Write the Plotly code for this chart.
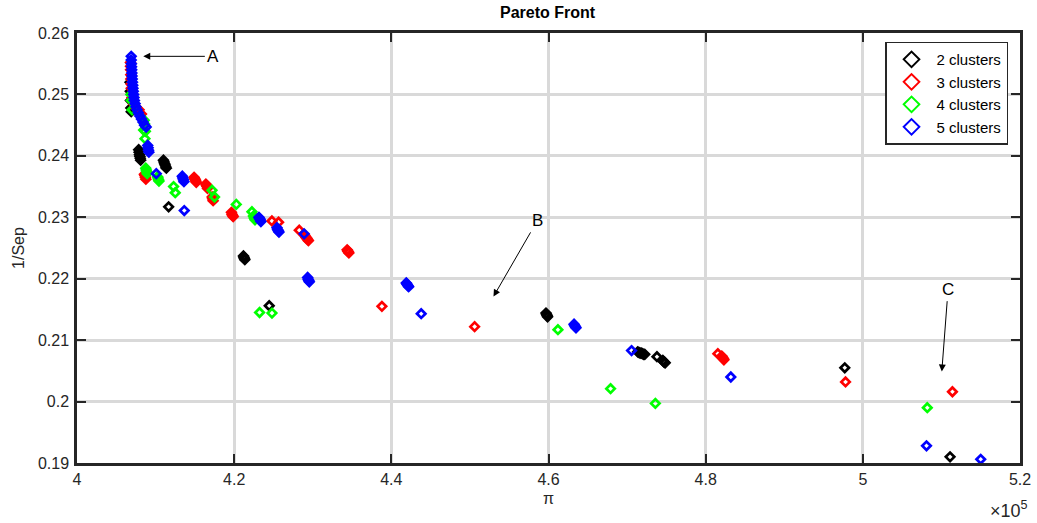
import plotly.graph_objects as go

# ---- data (x in units of 1e5); clustered near-duplicates are overlapping solutions ----
x_2 = [4.0675, 4.0678, 4.0680, 4.0685, 4.0690,
       4.0785, 4.0790, 4.0795, 4.0800, 4.0805, 4.0810,
       4.1100, 4.1108, 4.1115, 4.1122, 4.1130, 4.1137,
       4.1166,
       4.2118, 4.2124, 4.2130, 4.2136,
       4.2446,
       4.5968, 4.5975, 4.5982, 4.5988,
       4.7135, 4.7150, 4.7165, 4.7180, 4.7195, 4.7210, 4.7225,
       4.7380,
       4.7455, 4.7465, 4.7475, 4.7485,
       4.9770, 5.1110]
y_2 = [0.2520, 0.2505, 0.2490, 0.2478, 0.2472,
       0.2410, 0.2406, 0.2402, 0.2399, 0.2396, 0.2393,
       0.2393, 0.2390, 0.2387, 0.2385, 0.2382, 0.2380,
       0.2317,
       0.2237, 0.2235, 0.2233, 0.2231,
       0.2156,
       0.2144, 0.2142, 0.2140, 0.2138,
       0.2081, 0.2080, 0.2079, 0.2079, 0.2078, 0.2077, 0.2077,
       0.2073,
       0.2067, 0.2065, 0.2064, 0.2063,
       0.2055, 0.1910]

x_3 = [4.0680, 4.0681, 4.0682, 4.0684, 4.0685, 4.0688, 4.0690, 4.0700, 4.0720, 4.0760, 4.0790, 4.0820,
       4.0858, 4.0864, 4.0870, 4.0876,
       4.1490, 4.1497, 4.1504, 4.1511, 4.1518,
       4.1640, 4.1647, 4.1654, 4.1661,
       4.1720, 4.1726, 4.1732,
       4.1965, 4.1972, 4.1980, 4.1988,
       4.2480, 4.2565, 4.2828,
       4.2895, 4.2905, 4.2915, 4.2925, 4.2935, 4.2945,
       4.3438, 4.3445, 4.3452, 4.3460,
       4.3880, 4.5060, 4.8155,
       4.8205, 4.8215, 4.8225, 4.8232,
       4.9780, 5.1140]
y_3 = [0.2552, 0.2546, 0.2540, 0.2532, 0.2525, 0.2517, 0.2510, 0.2495, 0.2485, 0.2478, 0.2475, 0.2468,
       0.2370, 0.2368, 0.2365, 0.2362,
       0.2365, 0.2363, 0.2361, 0.2359, 0.2357,
       0.2354, 0.2352, 0.2350, 0.2347,
       0.2333, 0.2330, 0.2327,
       0.2308, 0.2305, 0.2303, 0.2301,
       0.2294, 0.2292, 0.2279,
       0.2271, 0.2269, 0.2267, 0.2266, 0.2264, 0.2262,
       0.2247, 0.2245, 0.2244, 0.2242,
       0.2155, 0.2122, 0.2078,
       0.2074, 0.2072, 0.2070, 0.2068,
       0.2032, 0.2016]

x_4 = [4.0685, 4.0690, 4.0700, 4.0855, 4.0860, 4.0848, 4.0870, 4.0865,
       4.0875, 4.0881, 4.0887, 4.0893,
       4.1025, 4.1031, 4.1037, 4.1043,
       4.1229, 4.1250, 4.1718, 4.1750, 4.2027, 4.2226,
       4.2245, 4.2255, 4.2265,
       4.2323, 4.2481, 4.6120, 4.6790, 4.7360, 5.0820]
y_4 = [0.2500, 0.2490, 0.2475, 0.2458, 0.2452, 0.2442, 0.2440, 0.2428,
       0.2380, 0.2377, 0.2374, 0.2371,
       0.2366, 0.2364, 0.2361, 0.2359,
       0.2350, 0.2340, 0.2344, 0.2333, 0.2321, 0.2309,
       0.2302, 0.2299, 0.2296,
       0.2145, 0.2144, 0.2117, 0.2021, 0.1997, 0.1990]

x_5 = [4.0690, 4.0690, 4.0692, 4.0694, 4.0696, 4.0698, 4.0700, 4.0703, 4.0706, 4.0709, 4.0712,
       4.0716, 4.0720, 4.0725, 4.0730, 4.0740, 4.0750, 4.0765, 4.0780, 4.0800, 4.0820, 4.0840,
       4.0860, 4.0880,
       4.0900, 4.0905, 4.0910, 4.0915,
       4.1009,
       4.1340, 4.1347, 4.1354, 4.1361,
       4.1365,
       4.2315, 4.2323, 4.2331, 4.2340,
       4.2545, 4.2553, 4.2561, 4.2570,
       4.2890,
       4.2935, 4.2942, 4.2949, 4.2956,
       4.4190, 4.4200, 4.4210, 4.4220,
       4.4380,
       4.6325, 4.6333, 4.6341, 4.6350,
       4.7057, 4.8320, 5.0810, 5.1500]
y_5 = [0.2562, 0.2556, 0.2550, 0.2545, 0.2540, 0.2535, 0.2530, 0.2525, 0.2520, 0.2515, 0.2510,
       0.2505, 0.2500, 0.2495, 0.2490, 0.2485, 0.2480, 0.2475, 0.2470, 0.2465, 0.2460, 0.2455,
       0.2450, 0.2447,
       0.2417, 0.2413, 0.2409, 0.2406,
       0.2371,
       0.2367, 0.2364, 0.2361, 0.2358,
       0.2311,
       0.2300, 0.2298, 0.2296, 0.2293,
       0.2283, 0.2280, 0.2278, 0.2276,
       0.2273,
       0.2202, 0.2199, 0.2197, 0.2195,
       0.2193, 0.2191, 0.2189, 0.2187,
       0.2143,
       0.2126, 0.2124, 0.2122, 0.2120,
       0.2083, 0.2040, 0.1928, 0.1906]

series_names = ["2 clusters", "3 clusters", "4 clusters", "5 clusters"]
series_colors = ["#000000", "#ff0000", "#00ff00", "#0000ff"]

x_ticks = [4.0, 4.2, 4.4, 4.6, 4.8, 5.0, 5.2]
x_tick_labels = ["4", "4.2", "4.4", "4.6", "4.8", "5", "5.2"]
y_ticks = [0.19, 0.20, 0.21, 0.22, 0.23, 0.24, 0.25, 0.26]
y_tick_labels = ["0.19", "0.2", "0.21", "0.22", "0.23", "0.24", "0.25", "0.26"]
dark_grid_x = [4.2, 4.6, 5.0]

# annotations: (label, text_x, text_y, head_x, head_y)
labels = [
    ("A", 4.1735, 0.2562, 4.0843, 0.2562),
    ("B", 4.5860, 0.2295, 4.5300, 0.2171),
    ("C", 5.1085, 0.2183, 5.1005, 0.2049),
]

FONT = "Liberation Sans, Arial, sans-serif"
fig = go.Figure()
for xs, ys, name, col in zip([x_2, x_3, x_4, x_5], [y_2, y_3, y_4, y_5], series_names, series_colors):
    fig.add_trace(go.Scatter(
        x=xs, y=ys, mode="markers", name=name,
        marker=dict(symbol="diamond-open", size=6.5, color=col, line=dict(width=2.7, color=col)),
    ))

for gx in dark_grid_x:
    fig.add_shape(type="line", x0=gx, x1=gx, y0=0, y1=1, xref="x", yref="paper",
                  line=dict(color="#6e6e6e", width=2, dash="dot"), layer="between")

for lab, tx, ty, hx, hy in labels:
    fig.add_annotation(x=hx, y=hy, ax=tx, ay=ty, xref="x", yref="y", axref="x", ayref="y",
                       text=lab, showarrow=True, arrowhead=2, arrowsize=1.4, arrowwidth=1,
                       arrowcolor="#000000", standoff=0, borderpad=2,
                       font=dict(family=FONT, size=17, color="#000000"))

fig.add_annotation(x=1.0106, y=-0.108, xref="paper", yref="paper", text="×10<sup>5</sup>",
                   showarrow=False, xanchor="right", yanchor="middle",
                   font=dict(family=FONT, size=18, color="#262626"))
fig.add_annotation(x=0.4996, y=-0.058, xref="paper", yref="paper", text="π",
                   showarrow=False, xanchor="center", yanchor="top",
                   font=dict(family=FONT, size=16, color="#262626"))

axis_common = dict(
    showline=True, linecolor="#262626", linewidth=2.5, mirror="ticks",
    ticks="inside", ticklen=9, tickwidth=2, tickcolor="#262626",
    showgrid=True, gridcolor="#d9d9d9", gridwidth=3, zeroline=False, automargin=False,
    tickfont=dict(family=FONT, size=16, color="#262626"),
)

fig.update_layout(
    width=1037, height=523,
    margin=dict(l=77, r=17, t=33, b=60),
    paper_bgcolor="white", plot_bgcolor="white",
    title=dict(text="<b>Pareto Front</b>", x=0.528, xanchor="center", y=0.977, yanchor="middle",
               yref="container", automargin=False,
               font=dict(family=FONT, size=16, color="#000000")),
    xaxis=dict(range=[4.0, 5.2], tickvals=x_ticks, ticktext=x_tick_labels, ticklabelstandoff=0,
               **axis_common),
    yaxis=dict(range=[0.19, 0.26], tickvals=y_ticks, ticktext=y_tick_labels, ticklabelstandoff=2,
               title=dict(text="1/Sep", font=dict(family=FONT, size=16, color="#262626"), standoff=10),
               **axis_common),
    legend=dict(x=0.9873, xanchor="right", y=0.980, yanchor="top",
                bgcolor="white", bordercolor="#262626", borderwidth=1.5,
                font=dict(family=FONT, size=15, color="#000000"),
                itemwidth=40, itemsizing="constant"),
    showlegend=True,
)

fig.write_html("out.html", config={"displayModeBar": False},
               post_script="document.body.style.margin='0px';document.body.style.overflow='hidden';")
